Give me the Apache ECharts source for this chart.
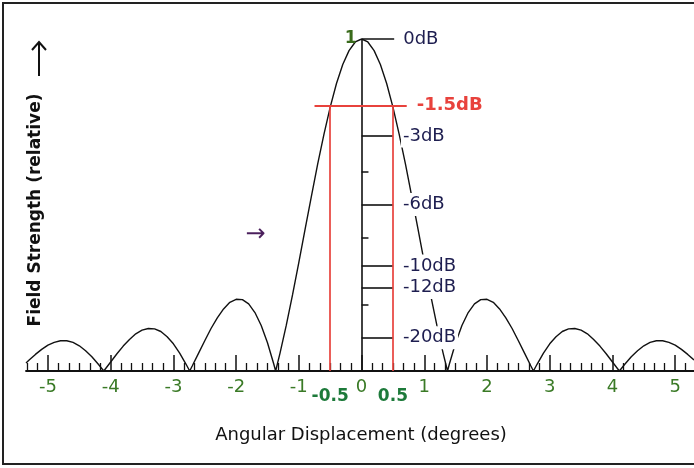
<!DOCTYPE html>
<html><head><meta charset="utf-8">
<script src="https://cdn.jsdelivr.net/npm/echarts@6.0.0/dist/echarts.min.js"></script>
<style>html,body{margin:0;padding:0;background:#fff}#c{width:694px;height:468px}</style>
</head><body><div id="c"></div>
<script>
// ---- data ----
const angles = [-5.35,-5.3,-5.2,-5.1,-5.0,-4.9,-4.8,-4.7,-4.6,-4.5,-4.4,-4.3,-4.2,-4.11,-4.0,-3.9,-3.8,-3.7,-3.6,-3.5,-3.4,-3.3,-3.2,-3.1,-3.0,-2.9,-2.8,-2.74,-2.7,-2.6,-2.5,-2.4,-2.3,-2.2,-2.1,-2.0,-1.9,-1.8,-1.7,-1.6,-1.5,-1.4,-1.37,-1.3,-1.2,-1.1,-1.0,-0.9,-0.8,-0.7,-0.6,-0.5,-0.4,-0.3,-0.2,-0.1,
  0,
  0.1,0.2,0.3,0.4,0.5,0.6,0.7,0.8,0.9,1.0,1.1,1.2,1.3,1.37,1.4,1.5,1.6,1.7,1.8,1.9,2.0,2.1,2.2,2.3,2.4,2.5,2.6,2.7,2.74,2.8,2.9,3.0,3.1,3.2,3.3,3.4,3.5,3.6,3.7,3.8,3.9,4.0,4.11,4.2,4.3,4.4,4.5,4.6,4.7,4.8,4.9,5.0,5.1,5.2,5.3];
const fieldStrength = [0.024,0.033,0.050,0.065,0.078,0.086,0.091,0.091,0.086,0.076,0.061,0.043,0.021,0,0.027,0.052,0.075,0.095,0.112,0.123,0.128,0.127,0.119,0.103,0.082,0.054,0.021,0,0.015,0.053,0.091,0.128,0.160,0.187,0.207,0.216,0.215,0.202,0.176,0.137,0.085,0.021,0,0.054,0.138,0.230,0.327,0.427,0.526,0.623,0.713,0.795,0.866,0.923,0.965,0.991,
  1,
  0.991,0.965,0.923,0.866,0.795,0.713,0.623,0.526,0.427,0.327,0.230,0.138,0.054,0,0.021,0.085,0.137,0.176,0.202,0.215,0.216,0.207,0.187,0.160,0.128,0.091,0.053,0.015,0,0.021,0.054,0.082,0.103,0.119,0.127,0.128,0.123,0.112,0.095,0.075,0.052,0.027,0,0.021,0.043,0.061,0.076,0.086,0.091,0.091,0.086,0.078,0.065,0.050,0.033];
const xTickValues = [-5,-4,-3,-2,-1,0,1,2,3,4,5];
const minorTicksPerDegree = 6;
const dbLabels = ['0dB','-3dB','-6dB','-10dB','-12dB','-20dB'];
const dbValues = [0,-3,-6,-10,-12,-20];
const fineYTicks = [0.2,0.4,0.6,0.8];
const markerLevel = 0.8;
const markerLabel = '-1.5dB';
const markerAngles = [-0.5, 0.5];
const markerAngleLabels = ['-0.5','0.5'];
const peakLabel = '1';
const xTitle = 'Angular Displacement (degrees)';
const yTitle = 'Field Strength (relative)';

// ---- build ----
const FONT = '"DejaVu Sans", sans-serif';
const curve = angles.map((a, i) => [a, fieldStrength[i]]);
const X_MIN = -5.35, X_MAX = 5.3;
const minorTicks = [];
for (let k = Math.ceil(X_MIN * minorTicksPerDegree); k <= Math.floor(X_MAX * minorTicksPerDegree); k++) {
  if (k % minorTicksPerDegree !== 0) minorTicks.push(k / minorTicksPerDegree);
}
const black = '#111';
const navy = '#1e1e50';
const red = '#e8423c';

const lines = [];
lines.push([{coord:[0,0], lineStyle:{color:black,width:1.6,type:'solid'}, label:{show:false}}, {coord:[0,1]}]);
dbValues.forEach((db, i) => {
  const amp = Math.pow(10, db / 20);
  const end = db === 0 ? 0.52 : 0.5;
  lines.push([{coord:[0,amp], lineStyle:{color:black,width:1.6,type:'solid'},
    label:{show:true, position:'end', distance: db === 0 ? 7 : 8, formatter: dbLabels[i],
      color:navy, fontFamily:FONT, fontSize:18, backgroundColor:'#fff', padding:[3,2,2,2]}},
    {coord:[end,amp]}]);
});
fineYTicks.forEach(v => {
  lines.push([{coord:[0,v], lineStyle:{color:black,width:1.5,type:'solid'}, label:{show:false}}, {coord:[0.11,v]}]);
});
markerAngles.forEach(a => {
  lines.push([{coord:[a,0], lineStyle:{color:red,width:1.7,type:'solid'}, label:{show:false}}, {coord:[a,markerLevel]}]);
});
lines.push([{coord:[-0.75,markerLevel], lineStyle:{color:red,width:1.9,type:'solid'},
  label:{show:true, position:'end', distance:10, formatter:markerLabel, color:red, fontFamily:FONT,
    fontWeight:'bold', fontSize:18, backgroundColor:'#fff'}}, {coord:[0.72,markerLevel]}]);

const points = [
  {coord:[0,1], symbolSize:0, label:{show:true, position:'left', distance:5, formatter:peakLabel,
    color:'#3a6b1c', fontFamily:FONT, fontSize:17, fontWeight:'bold'}},
  {coord:[-1.69,0.41], symbolSize:0, label:{show:true, position:'inside', formatter:'→',
    color:'#4a1f5c', fontFamily:FONT, fontSize:24}}
];
markerAngles.forEach((a, i) => {
  points.push({coord:[a,0], symbolSize:0, label:{show:true, position:'bottom', distance:17,
    formatter:markerAngleLabels[i], color:'#1d7a3a', fontFamily:FONT, fontSize:17, fontWeight:'bold'}});
});

const chart = echarts.init(document.getElementById('c'), null, {renderer:'canvas'});
chart.setOption({
  animation:false,
  backgroundColor:'#fff',
  grid:{left:26, top:39, width:669, height:332, containLabel:false},
  xAxis:[{
    type:'value', min:X_MIN, max:X_MAX, position:'bottom',
    axisLine:{show:true, onZero:false, lineStyle:{color:black,width:1.8}},
    axisTick:{show:true, inside:true, length:16, customValues:xTickValues, lineStyle:{color:black,width:1.5}},
    axisLabel:{show:true, customValues:xTickValues, margin:7, color:'#3a7a26', fontFamily:FONT, fontSize:18},
    splitLine:{show:false}
  },{
    type:'value', min:X_MIN, max:X_MAX, position:'bottom', offset:0,
    axisLine:{show:false},
    axisTick:{show:true, inside:true, length:8, customValues:minorTicks, lineStyle:{color:black,width:1.3}},
    axisLabel:{show:false},
    splitLine:{show:false}
  }],
  yAxis:{type:'value', min:0, max:1, show:false},
  series:[
    {type:'line', data:curve, showSymbol:false, symbol:'none', smooth:false, z:2,
     lineStyle:{color:black, width:1.4}},
    {type:'line', data:[], z:3,
     markLine:{silent:true, symbol:['none','none'], animation:false, lineStyle:{type:'solid'}, data:lines},
     markPoint:{silent:true, symbol:'circle', animation:false, data:points}}
  ],
  graphic:[
    {type:'rect', shape:{x:3, y:3, width:720, height:461}, style:{fill:null, stroke:'#222', lineWidth:2}, z:10},
    {type:'text', x:36, y:210, rotation:Math.PI/2, style:{text:yTitle, font:'bold 17px ' + FONT, fill:'#111',
      textAlign:'center', textVerticalAlign:'middle'}},
    {type:'text', x:361, y:435, style:{text:xTitle, font:'18px ' + FONT, fill:'#111',
      textAlign:'center', textVerticalAlign:'middle'}},
    {type:'line', shape:{x1:39, y1:76, x2:39, y2:42}, style:{stroke:'#111', lineWidth:2}},
    {type:'polyline', shape:{points:[[32,50],[39,42],[46,50]]}, style:{stroke:'#111', lineWidth:2, fill:null}}
  ]
});
</script></body></html>
